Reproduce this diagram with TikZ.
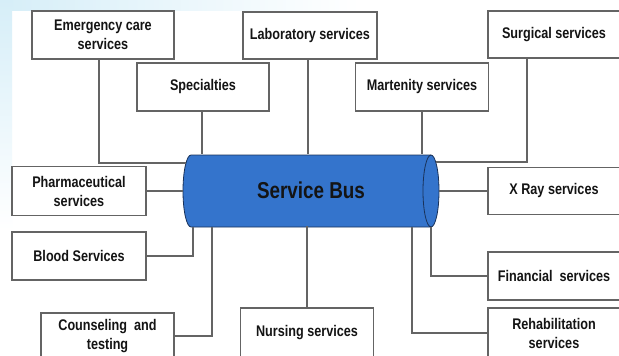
\documentclass[tikz,border=0pt]{standalone}
\usepackage{fontspec}
\setmainfont{Liberation Sans}[FakeStretch=0.82]
\usetikzlibrary{calc}
\definecolor{bgblue}{RGB}{214,238,248}
\definecolor{boxedge}{RGB}{100,100,100}
\definecolor{wire}{RGB}{100,100,100}
\definecolor{busblue}{RGB}{52,116,204}
\definecolor{busedge}{RGB}{25,50,90}
\definecolor{txt}{RGB}{20,20,20}
\tikzset{
  svc/.style={draw=boxedge, line width=1.3pt, fill=white, inner sep=0pt, align=center,
    text=txt, font=\fontsize{15.4}{19}\selectfont\bfseries},
  wireline/.style={draw=wire, line width=1.3pt},
}
\begin{document}
\begin{tikzpicture}[x=1pt,y=-1pt]
\useasboundingbox (0,0) rectangle (619,356);
\fill[white] (0,0) rectangle (619,356);
\fill[left color=bgblue, right color=white] (0,0) rectangle (360,10);
\fill[top color=bgblue, bottom color=white] (0,0) rectangle (12,230);

% bus
\path[fill=busblue, draw=busedge, line width=0.8pt]
  (191,155) -- (431,155)
  .. controls (435.4,155) and (439,171.1) .. (439,191)
  .. controls (439,210.9) and (435.4,227) .. (431,227)
  -- (191,227)
  .. controls (186.6,227) and (183,210.9) .. (183,191)
  .. controls (183,171.1) and (186.6,155) .. (191,155) -- cycle;
\draw[busedge, line width=0.8pt] (431,155) .. controls (426.6,155) and (423,171.1) .. (423,191)
  .. controls (423,210.9) and (426.6,227) .. (431,227);
\node[minimum width=256pt, minimum height=72pt, inner sep=0pt, text=txt,
  font=\fontsize{23}{26}\selectfont\bfseries] (bus) at (311,190) {Service Bus};

% boxes
\node[svc, minimum width=142pt, minimum height=48pt] (emerg) at (103,35) {Emergency care\\services};
\node[svc, minimum width=132pt, minimum height=48pt] (spec) at (203,87) {Specialties};
\node[svc, minimum width=134pt, minimum height=47pt] (lab) at (310,35.5) {Laboratory services};
\node[svc, minimum width=133pt, minimum height=48pt] (mart) at (422,87) {Martenity services};
\node[svc, minimum width=132pt, minimum height=47pt] (surg) at (554,34.5) {Surgical services};
\node[svc, minimum width=132pt, minimum height=47pt] (xray) at (554,191) {X Ray services};
\node[svc, minimum width=132pt, minimum height=48pt] (fin) at (554,276) {Financial~ services};
\node[svc, minimum width=132pt, minimum height=50pt] (rehab) at (554,333) {Rehabilitation\\services};
\node[svc, minimum width=133pt, minimum height=49pt] (nurs) at (307,332.5) {Nursing services};
\node[svc, minimum width=133pt, minimum height=46pt] (couns) at (107.5,336) {Counseling~ and\\testing};
\node[svc, minimum width=134pt, minimum height=48pt] (blood) at (79,256) {Blood Services};
\node[svc, minimum width=134pt, minimum height=49pt] (pharm) at (79,191) {Pharmaceutical\\services};

% bus attachment points
\coordinate (cE) at (186,163);
\coordinate (cS) at (435.7,162);
\coordinate (cB) at (193,227);
\coordinate (cC) at (212,227);
\coordinate (cF) at (431,227);
\coordinate (cR) at (412,227);

% connectors
\draw[wireline] ([xshift=-4pt]emerg.south) |- (cE);
\draw[wireline] ([xshift=-1pt]spec.south) -- ([xshift=-1pt]spec.south |- bus.north);
\draw[wireline] ([xshift=-2pt]lab.south) -- ([xshift=-2pt]lab.south |- bus.north);
\draw[wireline] (mart.south) -- (mart.south |- bus.north);
\draw[wireline] ([xshift=-27pt]surg.south) |- (cS);
\draw[wireline] (pharm.east) -- (pharm.east -| bus.west);
\draw[wireline] (xray.west) -- (xray.west -| bus.east);
\draw[wireline] (blood.east) -| (cB);
\draw[wireline] (couns.east) -| (cC);
\draw[wireline] (nurs.north) -- (nurs.north |- bus.south);
\draw[wireline] (fin.west) -| (cF);
\draw[wireline] (rehab.west) -| (cR);
\end{tikzpicture}
\end{document}
